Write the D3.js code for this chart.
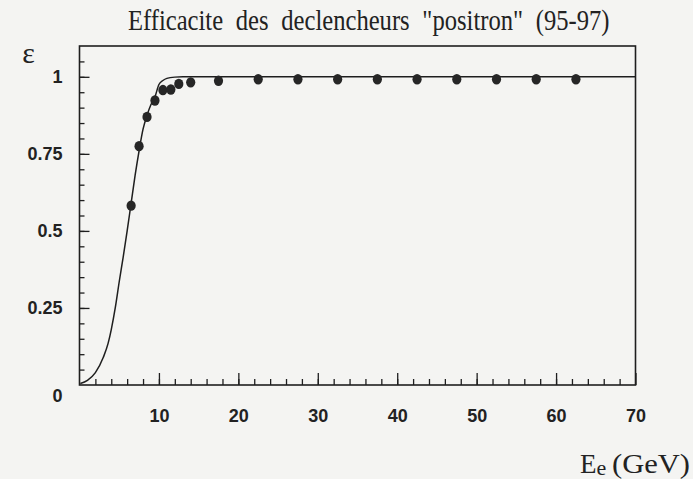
<!DOCTYPE html>
<html>
<head>
<meta charset="utf-8">
<script src="https://cdn.jsdelivr.net/npm/d3@7"></script>
<style>
  html, body { margin: 0; padding: 0; background: #f4f4f2; }
  svg { display: block; }
  text { fill: #222; }
</style>
</head>
<body>
<svg id="chart" width="693" height="479"></svg>
<script>
// Trigger efficiency vs. positron energy, 1995-97
const energies = [6.5, 7.5, 8.5, 9.5, 10.5, 11.5, 12.5, 14, 17.5, 22.5, 27.5, 32.5, 37.5, 42.5, 47.5, 52.5, 57.5, 62.5];
const efficiency = [0.582, 0.775, 0.870, 0.923, 0.957, 0.959, 0.977, 0.982, 0.987, 0.992, 0.992, 0.992, 0.992, 0.992, 0.992, 0.992, 0.992, 0.992];

// fitted turn-on curve, read along its length
const fitE   = [0.1, 1, 2, 3, 3.6, 4, 4.5, 5, 5.5, 6, 6.5, 7, 7.5, 8, 8.5, 9, 9.5, 10, 10.5, 11, 12, 13, 14, 70];
const fitEff = [0.005, 0.015, 0.04, 0.09, 0.135, 0.18, 0.25, 0.335, 0.415, 0.50, 0.59, 0.68, 0.76, 0.83, 0.875, 0.91, 0.935, 0.975, 0.988, 0.995, 0.999, 1.0, 1.0, 1.0];

const xMajor = [10, 20, 30, 40, 50, 60, 70];
const xMinor = d3.range(2, 70, 2);
const yMajor = [0.25, 0.5, 0.75, 1];
const yMinor = d3.range(0.05, 1.1, 0.05).map(v => +v.toFixed(2));

const titleText = "Efficacite des declencheurs \"positron\" (95-97)";

const svg = d3.select("#chart");
const ink = "#1e1e1e";
const labelFont = "'Liberation Sans', Arial, sans-serif";
const serifFont = "'Liberation Serif', 'Times New Roman', serif";

const x = d3.scaleLinear().domain([0, 70]).range([79.5, 635.5]);
const y = d3.scaleLinear().domain([0, 1.1]).range([385, 46]);

// frame
svg.append("rect")
  .attr("x", x(0)).attr("y", y(1.1))
  .attr("width", x(70) - x(0)).attr("height", y(0) - y(1.1))
  .attr("fill", "none").attr("stroke", ink).attr("stroke-width", 1.6);

// x axis: inward ticks
const xMinorAxis = d3.axisBottom(x).tickValues(xMinor).tickSize(-6).tickFormat("");
const xMajorAxis = d3.axisBottom(x).tickValues(xMajor).tickSize(-12).tickPadding(24).tickFormat(d3.format("d"));
svg.append("g").attr("transform", `translate(0,${y(0)})`).call(xMinorAxis);
svg.append("g").attr("class", "xmaj").attr("transform", `translate(0,${y(0)})`).call(xMajorAxis);

// y axis: inward ticks
const yMinorAxis = d3.axisLeft(y).tickValues(yMinor).tickSize(-5).tickFormat("");
const yMajorAxis = d3.axisLeft(y).tickValues(yMajor).tickSize(-10).tickPadding(17).tickFormat(d => d3.format("")(d));
svg.append("g").attr("transform", `translate(${x(0)},0)`).call(yMinorAxis);
svg.append("g").attr("class", "ymaj").attr("transform", `translate(${x(0)},0)`).call(yMajorAxis);

svg.selectAll(".domain").remove();
svg.selectAll(".tick line").attr("stroke", ink).attr("stroke-width", 1.3);
svg.selectAll(".xmaj text, .ymaj text")
  .attr("fill", ink)
  .style("font-family", labelFont)
  .style("font-size", "18px").style("font-weight", "bold");

// shared origin label
svg.append("text")
  .attr("x", x(0) - 22).attr("y", y(0) + 17)
  .attr("text-anchor", "middle")
  .style("font-family", labelFont)
  .style("font-size", "18px").style("font-weight", "bold")
  .text("0");

// fit curve
const fitPts = fitE.map((e, i) => [e, fitEff[i]]);
svg.append("path")
  .datum(fitPts)
  .attr("fill", "none").attr("stroke", ink).attr("stroke-width", 1.5)
  .attr("d", d3.line().x(d => x(d[0])).y(d => y(d[1])).curve(d3.curveMonotoneX));

// measured points
svg.append("g").selectAll("ellipse")
  .data(energies.map((e, i) => [e, efficiency[i]]))
  .join("ellipse")
  .attr("cx", d => x(d[0])).attr("cy", d => y(d[1]))
  .attr("rx", 4.6).attr("ry", 5.2)
  .attr("fill", "#262626");

// title in a horizontally condensed serif
svg.append("text")
  .attr("transform", "translate(128,30) scale(0.82,1)")
  .style("font-family", serifFont)
  .style("font-size", "30px")
  .style("word-spacing", "8px")
  .text(titleText);

// y-axis symbol
svg.append("text")
  .attr("x", 28.5).attr("y", 63)
  .attr("text-anchor", "middle")
  .style("font-family", serifFont)
  .style("font-size", "30px")
  .text("ε");

// x-axis title
const xt = svg.append("text")
  .attr("x", 580).attr("y", 473)
  .style("font-family", serifFont)
  .style("font-size", "27px");
xt.append("tspan").text("E");
xt.append("tspan").style("font-size", "22px").attr("dy", 2).text("e");
xt.append("tspan").attr("x", 612).attr("dy", -2).attr("textLength", 78).attr("lengthAdjust", "spacingAndGlyphs").text("(GeV)");
</script>
</body>
</html>
